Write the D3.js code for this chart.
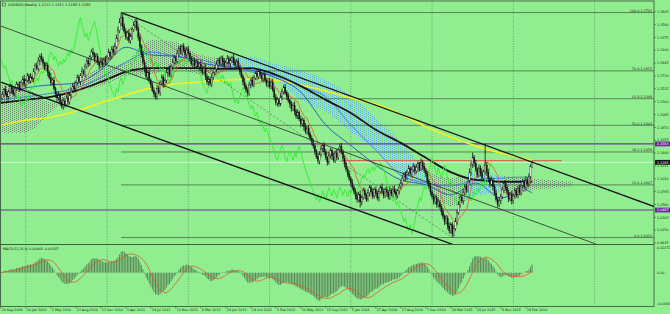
<!DOCTYPE html>
<html>
<head>
<meta charset="utf-8">
<script src="https://cdn.jsdelivr.net/npm/d3@7"></script>
<style>
body { margin: 0; background: #90ee90; }
svg { display: block; font-family: "DejaVu Sans", sans-serif; }
</style>
</head>
<body>
<div id="chart"></div>
<script>
// Weekly closes, one per bar from 20 Sep 2009
var closes = [
  1.236,1.242,1.250,1.244,1.238,1.247,1.255,1.249,1.243,1.252,1.259,
  1.258,1.251,1.262,1.268,1.259,1.266,1.273,1.265,1.271,1.268,1.280,1.291,1.286,1.298,1.306,1.301,
  1.294,1.286,1.290,1.279,1.271,1.262,1.266,1.252,1.243,1.236,1.241,1.229,1.222,1.231,1.225,1.236,1.230,1.241,
  1.248,1.256,1.251,1.262,1.270,1.264,1.274,1.281,1.277,1.289,1.298,1.293,1.305,1.313,
  1.309,1.300,1.306,1.296,1.290,1.298,1.292,1.301,1.296,1.304,1.312,1.306,1.318,1.313,
  1.322,1.335,1.349,1.362,1.371,1.356,
  1.348,1.338,1.345,1.332,1.340,1.351,1.358,1.364,1.352,1.338,1.322,1.309,1.296,1.285,1.272,1.279,
  1.265,1.258,1.249,1.243,1.238,1.252,1.246,1.262,1.270,1.259,1.266,1.278,
  1.284,1.275,1.289,1.296,1.304,1.298,1.311,1.319,1.314,1.322,1.316,1.309,1.318,1.311,
  1.302,1.294,1.299,1.290,1.296,1.288,1.293,1.285,
  1.279,1.286,1.272,1.263,1.268,1.260,1.271,1.278,1.285,
  1.292,1.299,1.294,1.303,1.297,1.289,1.296,1.302,1.294,1.299,
  1.304,1.296,1.290,1.297,1.288,1.280,1.272,1.263,1.256,
  1.249,1.244,1.258,1.266,1.259,1.270,
  1.277,1.272,1.280,1.274,1.268,1.275,1.266,1.260,
  1.264,1.256,1.262,1.250,1.238,1.228,1.233,1.226,
  1.238,1.247,1.254,1.245,1.239,1.232,
  1.226,1.218,1.224,1.214,1.206,1.212,1.201,1.193,1.199,1.188,1.180,1.186,1.176,1.169,1.163,1.156,
  1.147,1.138,1.131,1.142,1.151,1.157,1.146,1.136,1.129,1.140,1.148,1.139,1.132,1.144,1.137,1.150,1.155,
  1.146,1.135,1.126,1.117,1.109,1.101,1.094,1.087,
  1.080,1.073,1.066,1.075,1.062,1.070,1.081,1.074,1.067,1.078,1.086,1.079,1.072,1.083,1.077,1.069,1.080,1.087,
  1.080,1.073,1.083,1.078,1.071,1.082,1.076,1.084,1.079,1.073,1.081,1.087,1.094,
  1.101,1.108,1.103,1.112,1.118,1.110,
  1.116,1.121,1.114,1.120,1.126,1.118,1.128,1.122,1.115,1.109,
  1.097,1.088,1.079,1.071,
  1.063,1.069,1.058,1.062,1.054,1.046,1.038,1.029,1.035,1.022,1.014,1.024,1.009,1.018,
  1.029,1.045,1.058,1.070,1.064,1.078,1.088,1.083,1.097,1.112,1.124,1.136,1.127,
  1.116,1.108,1.119,1.111,1.102,1.113,1.124,
  1.112,1.101,1.092,1.098,1.088,
  1.077,1.066,1.058,1.064,1.071,
  1.083,1.093,1.087,1.078,
  1.067,1.075,1.064,1.072,
  1.081,1.074,1.085,1.078,
  1.089,1.096,1.088,1.099,1.092,
  1.105,1.1211,1.1285
];
var firstOpen = 1.232;

// upper / lower wick length of each candle, in pips
var wickUp = [
  35,52,28,60,44,31,55,40,62,27,48,36,58,33,45,70,29,51,38,64,
  42,57,30,49,66,35,53,41,28,60,46,34,72,39,55,30,47,63,37,50,
  58,32,44,69,36,52,41,60,29,55,47,38,65,33,50,42,59,31,48,70,
  36,54,43,28,61,45,37,56,40,68,33,49,57,62,71,66,75,81,58,47,
  52,39,64,45,36,58,42,70,48,55,38,61,44,53,35,66,41,50,57,34,
  62,45,37,56,48,30,59,43,67,38,51,44,29,63,40,54,35,60,47,39,
  55,32,48,61,37,52,44,28,59,46,35,66,42,50,38,57,31,49,64,40,
  53,36,45,58,33,62,41,50,29,56,47,39,60,34,52,43,68,37,49,55,
  31,58,44,38,63,46,35,54,41,60,32,49,57,40,66,38,51,45,30,62,
  47,36,55,42,59,33,50,44,64,38,53,29,57,45,36,61,40,52,34,48,
  56,41,35,63,49,58,38,52,44,30,60,46,37,55,42,67,33,48,59,40,
  51,36,45,57,39,62,34,48,55,41,66,37,52,44,30,58,46,39,61,35,
  49,42,56,33,60,45,38,53,40,64,31,50,57,43,36,59,47,62,38,54,
  41,56,35,48,63,39,52,45,30,68,44,57,36,50,42,61,34,49,55,40,
  58,37,46,62,33,51,44,59,38,48,55,66,42,57,36,50,61,44,53,70,
  63,58,90,47,55,39,61,44,52,36,360,48,57,40,63,45,38,55,42,60,
  47,53,36,59,44,50,39,62,41,56,35,48,60,43,52,38,57,45,49,40,
  27
];
var wickDn = [
  42,30,55,38,61,47,33,58,40,52,36,64,45,29,56,41,67,35,50,44,
  39,60,46,33,52,70,43,57,36,49,62,38,54,45,31,66,48,40,59,35,
  53,44,37,61,48,55,32,59,42,50,38,63,46,35,57,41,52,30,60,47,
  38,56,45,62,35,51,43,58,33,49,60,40,54,46,37,52,44,57,62,50,
  45,58,39,53,66,41,50,36,61,47,55,42,59,38,64,45,52,35,57,43,
  50,37,62,44,56,40,53,68,35,48,60,42,55,39,51,45,63,36,49,58,
  41,54,37,60,46,52,39,65,43,50,33,57,48,62,40,55,44,36,59,47,
  38,52,61,43,56,35,49,64,42,53,37,58,45,50,33,60,47,41,55,39,
  57,42,50,36,62,45,53,40,58,34,49,63,44,51,38,56,43,60,47,35,
  52,46,38,59,41,55,48,36,61,44,50,39,57,43,64,37,53,46,40,58,
  45,56,38,51,62,40,48,57,35,60,43,52,66,39,47,55,42,58,36,50,
  61,44,53,38,57,46,40,63,49,36,90,55,42,59,47,38,62,45,51,40,
  56,43,60,37,52,48,41,64,45,55,39,58,36,50,47,62,40,53,44,57,
  46,52,38,61,43,55,40,58,49,36,63,44,51,57,38,60,42,53,47,55,
  50,43,62,48,56,39,59,45,53,64,48,40,57,45,52,38,60,43,55,48,
  41,56,47,62,38,53,45,58,40,51,46,60,43,55,37,58,48,42,52,45,
  56,40,49,58,44,52,37,60,46,50,41,57,44,53,47,39,55,43,50,45,
  23
];

// moving averages read at every 16th bar
var knotBars = [0,16,32,48,64,80,96,112,128,144,160,176,192,208,224,240,256,272,288,304,320,336,340];
var blueFast = [1.241,1.253,1.258,1.261,1.283,1.321,1.308,1.306,1.295,1.288,1.283,1.270,1.246,1.191,1.157,1.124,1.099,1.091,1.074,1.094,1.069,1.082,1.077];
var blueSlow = [1.233,1.238,1.244,1.253,1.270,1.296,1.313,1.306,1.300,1.290,1.280,1.273,1.256,1.238,1.191,1.149,1.107,1.094,1.089,1.099,1.102,1.104,1.104];
var blackMA  = [1.228,1.233,1.238,1.248,1.263,1.280,1.286,1.286,1.286,1.285,1.286,1.275,1.256,1.233,1.211,1.183,1.161,1.136,1.112,1.099,1.096,1.096,1.096];
var yellowMA = [1.191,1.199,1.204,1.214,1.228,1.241,1.253,1.260,1.263,1.266,1.268,1.266,1.258,1.248,1.236,1.226,1.209,1.188,1.171,1.156,1.144,1.134,1.132];

// ichimoku cloud edges (runs 26 bars past the last bar)
var cloudBars = [0,16,32,48,64,80,96,112,128,144,160,176,192,208,224,240,256,272,288,304,320,336,352,366];
var cloudTop = [1.258,1.253,1.229,1.266,1.286,1.296,1.333,1.330,1.308,1.303,1.305,1.293,1.283,1.266,1.241,1.203,1.162,1.116,1.102,1.112,1.106,1.102,1.099,1.096];
var cloudBot = [1.178,1.178,1.213,1.246,1.256,1.273,1.276,1.286,1.276,1.280,1.283,1.266,1.233,1.213,1.179,1.149,1.107,1.085,1.055,1.072,1.079,1.082,1.085,1.089];

// price axis
var priceTicks = [1.3805,1.3590,1.3375,1.3160,1.2945,1.2730,1.2515,1.2300,1.2085,1.1870,1.1655,1.1440,1.1225,1.1010,1.0795,1.0580,1.0365,1.0150,0.9935];
var fibNames  = ["100.0-1.3791","76.4-1.2815","61.8-1.2349","50.0-1.1904","38.2-1.1458","23.6-1.0907","0.0-1.0026"];
var fibPrices = [1.3791,1.2815,1.2349,1.1904,1.1458,1.0907,1.0026];
var fibFrom = 77, fibTo = 289;
var purpleLevels = [1.1593, 1.0487];
var lastPrice = 1.1285;
var redLevel = 1.1312, redFrom = 218, redTo = 359;

// trend channel lines: [bar, price, bar, price]
var channelThick = [[77, 1.3791, 419, 1.0537], [0, 1.2628, 300, 0.9810]];
var channelThin  = [[0, 1.3565, 390, 0.9830]];

// macd axis
var macdTicks = [0.02372, 0, -0.0294];
var macdTickText = ["0.02372", "0.00", "-0.0294"];

// time axis
var dateBars = [0,16,32,48,64,80,96,112,128,144,160,176,192,208,224,240,256,272,288,304,320,336];
var dateLabels = ["20 Sep 2009","10 Jan 2010","2 May 2010","22 Aug 2010","12 Dec 2010","3 Apr 2011","24 Jul 2011","13 Nov 2011","4 Mar 2012","24 Jun 2012","14 Oct 2012","3 Feb 2013","26 May 2013","15 Sep 2013","5 Jan 2014","27 Apr 2014","17 Aug 2014","7 Dec 2014","29 Mar 2015","19 Jul 2015","8 Nov 2015","28 Feb 2016"];
var gridBars = [16,68,120,172,224,276,328,380];

var W = 670, H = 314;
var plotR = 654, mainTop = 1, mainBot = 244, macdBot = 306.5;

var svg = d3.select("#chart").append("svg")
  .attr("width", W)
  .attr("height", H);

svg.append("rect").attr("width", W).attr("height", H).attr("fill", "#90ee90");

var x = d3.scaleLinear().domain([0, 1]).range([0.8, 0.8 + 1.5625]);
var y = d3.scaleLinear().domain([0.9935, 1.3805]).range([243, 11.7]);
var ym = d3.scaleLinear().domain([-0.0294, 0.02372]).range([303.7, 247.7]);

var defs = svg.append("defs");
defs.append("clipPath").attr("id", "mainClip")
  .append("rect").attr("x", 0).attr("y", mainTop).attr("width", plotR).attr("height", mainBot - mainTop);
defs.append("clipPath").attr("id", "macdClip")
  .append("rect").attr("x", 0).attr("y", mainBot + 1).attr("width", plotR).attr("height", macdBot - mainBot - 1);

// staggered dot hatching for the cloud
function dots(id, col) {
  var p = defs.append("pattern").attr("id", id)
    .attr("width", 4).attr("height", 2).attr("patternUnits", "userSpaceOnUse");
  p.append("rect").attr("x", 0).attr("y", 0).attr("width", 1).attr("height", 1).attr("fill", col);
  p.append("rect").attr("x", 2).attr("y", 1).attr("width", 1).attr("height", 1).attr("fill", col);
}
dots("greyDots", "#6f7f74");
dots("blueDots", "#5fb0ec");

// blue parts of the cloud, by bar
var blueZones = [[144, 272], [298, 322]];
var bz = defs.append("clipPath").attr("id", "blueZone");
blueZones.forEach(function(z) {
  bz.append("rect").attr("x", x(z[0])).attr("y", 0).attr("width", x(z[1]) - x(z[0])).attr("height", H);
});
var gz = defs.append("clipPath").attr("id", "greyZone");
var edges = [-10].concat(d3.merge(blueZones), [400]);
for (var k = 0; k < edges.length; k += 2) {
  gz.append("rect").attr("x", x(edges[k])).attr("y", 0).attr("width", x(edges[k + 1]) - x(edges[k])).attr("height", H);
}

// grid
svg.append("g").selectAll("line").data(gridBars).enter().append("line")
  .attr("x1", function(d) { return x(d); }).attr("x2", function(d) { return x(d); })
  .attr("y1", mainTop).attr("y2", macdBot)
  .attr("stroke", "#4f6f4f").attr("stroke-width", 0.6).attr("stroke-dasharray", "1,1.5");

var main = svg.append("g").attr("clip-path", "url(#mainClip)");

// cloud
var cloud = cloudBars.map(function(b, i) { return {i: b, hi: cloudTop[i], lo: cloudBot[i]}; });
var cloudArea = d3.area()
  .x(function(d) { return x(d.i); })
  .y0(function(d) { return y(d.lo); })
  .y1(function(d) { return y(d.hi); })
  .curve(d3.curveMonotoneX);
main.append("g").attr("clip-path", "url(#greyZone)").append("path")
  .attr("d", cloudArea(cloud)).attr("fill", "url(#greyDots)");
main.append("g").attr("clip-path", "url(#blueZone)").append("path")
  .attr("d", cloudArea(cloud)).attr("fill", "url(#blueDots)");

// fibonacci levels
main.selectAll(".fib").data(fibPrices).enter().append("line")
  .attr("class", "fib")
  .attr("x1", x(fibFrom)).attr("x2", plotR)
  .attr("y1", function(d) { return y(d); }).attr("y2", function(d) { return y(d); })
  .attr("stroke", "#4f7a4f").attr("stroke-width", 0.9);

// horizontal levels
main.selectAll(".purple").data(purpleLevels).enter().append("line")
  .attr("x1", 0).attr("x2", plotR)
  .attr("y1", function(d) { return y(d); }).attr("y2", function(d) { return y(d); })
  .attr("stroke", "#7030a0").attr("stroke-width", 1.1);
main.append("line")
  .attr("x1", 0).attr("x2", plotR).attr("y1", y(lastPrice)).attr("y2", y(lastPrice))
  .attr("stroke", "#e4f8e4").attr("stroke-width", 0.8);
main.append("line")
  .attr("x1", x(redFrom)).attr("x2", x(redTo)).attr("y1", y(redLevel)).attr("y2", y(redLevel))
  .attr("stroke", "#e0503c").attr("stroke-width", 1);

// candles
var bars = closes.map(function(c, i) {
  var o = i ? closes[i - 1] : firstOpen;
  var up = (wickUp[i] || 40) / 1e4, dn = (wickDn[i] || 40) / 1e4;
  return {i: i, o: o, c: c, h: Math.max(o, c) + up, l: Math.min(o, c) - dn};
});

// slow lines
var knotLine = d3.line()
  .x(function(d) { return x(d.i); })
  .y(function(d) { return y(d.v); })
  .curve(d3.curveMonotoneX);
function knots(arr) { return knotBars.map(function(b, i) { return {i: b, v: arr[i]}; }); }

main.append("path").attr("d", knotLine(knots(yellowMA)))
  .attr("fill", "none").attr("stroke", "#f2f020").attr("stroke-width", 1.6);
main.append("path").attr("d", knotLine(knots(blueSlow)))
  .attr("fill", "none").attr("stroke", "#3f78e6").attr("stroke-width", 0.9);
main.append("path").attr("d", knotLine(knots(blueFast)))
  .attr("fill", "none").attr("stroke", "#1f4fd0").attr("stroke-width", 0.9);
main.append("path").attr("d", knotLine(knots(blackMA)))
  .attr("fill", "none").attr("stroke", "#151515").attr("stroke-width", 1.8);

// chikou span: close shifted 26 bars back
var chikou = closes.slice(26).map(function(c, i) { return {i: i, v: c}; });
main.append("path")
  .attr("d", d3.line().x(function(d) { return x(d.i); }).y(function(d) { return y(d.v); })(chikou))
  .attr("fill", "none").attr("stroke", "#2cf02c").attr("stroke-width", 0.9);

// tenkan-sen: 9 bar midpoint
var tenkan = bars.map(function(b, i) {
  var w = bars.slice(Math.max(0, i - 8), i + 1);
  return {i: i, v: (d3.max(w, function(d) { return d.h; }) + d3.min(w, function(d) { return d.l; })) / 2};
});
main.append("path")
  .attr("d", d3.line().x(function(d) { return x(d.i); }).y(function(d) { return y(d.v); })(tenkan))
  .attr("fill", "none").attr("stroke", "#e4572e").attr("stroke-width", 0.8);

var cg = main.append("g");
cg.selectAll(".wick").data(bars).enter().append("line")
  .attr("x1", function(d) { return x(d.i); }).attr("x2", function(d) { return x(d.i); })
  .attr("y1", function(d) { return y(d.h); }).attr("y2", function(d) { return y(d.l); })
  .attr("stroke", "#111").attr("stroke-width", 0.8);
cg.selectAll(".body").data(bars).enter().append("rect")
  .attr("x", function(d) { return x(d.i) - 0.6; })
  .attr("width", 1.2)
  .attr("y", function(d) { return y(Math.max(d.o, d.c)); })
  .attr("height", function(d) { return Math.max(0.6, Math.abs(y(d.o) - y(d.c))); })
  .attr("fill", function(d) { return d.c >= d.o ? "#f4f4f4" : "#111"; })
  .attr("stroke", "#111").attr("stroke-width", 0.3);

// channel lines and fibo diagonal
function segs(arr, w, col) {
  main.selectAll(null).data(arr).enter().append("line")
    .attr("x1", function(d) { return x(d[0]); }).attr("y1", function(d) { return y(d[1]); })
    .attr("x2", function(d) { return x(d[2]); }).attr("y2", function(d) { return y(d[3]); })
    .attr("stroke", col).attr("stroke-width", w);
}
segs(channelThick, 1.3, "#111");
segs(channelThin, 0.8, "#2a2a2a");
main.append("line")
  .attr("x1", x(fibFrom)).attr("y1", y(fibPrices[0]))
  .attr("x2", x(fibTo)).attr("y2", y(fibPrices[fibPrices.length - 1]))
  .attr("stroke", "#4f6f4f").attr("stroke-width", 0.7).attr("stroke-dasharray", "2,2");

// MACD panel
var e12 = closes[0], e26 = closes[0], macd = [];
closes.forEach(function(c) {
  e12 += (c - e12) * 2 / 13;
  e26 += (c - e26) * 2 / 27;
  macd.push(e12 - e26);
});
var signal = macd.map(function(m, i) { return d3.mean(macd.slice(Math.max(0, i - 8), i + 1)); });

var mg = svg.append("g").attr("clip-path", "url(#macdClip)");
mg.selectAll("line").data(macd).enter().append("line")
  .attr("x1", function(d, i) { return x(i); }).attr("x2", function(d, i) { return x(i); })
  .attr("y1", ym(0)).attr("y2", function(d) { return ym(d); })
  .attr("stroke", "#557a55").attr("stroke-width", 0.9);
mg.append("path")
  .attr("d", d3.line().x(function(d, i) { return x(i); }).y(function(d) { return ym(d); })(signal))
  .attr("fill", "none").attr("stroke", "#e4572e").attr("stroke-width", 0.8);

// frame
svg.append("rect").attr("x", 0.5).attr("y", mainTop).attr("width", plotR - 0.5).attr("height", macdBot - mainTop)
  .attr("fill", "none").attr("stroke", "#3e5e3e").attr("stroke-width", 0.9);
svg.append("line").attr("x1", 0).attr("x2", plotR).attr("y1", mainBot + 0.5).attr("y2", mainBot + 0.5)
  .attr("stroke", "#3e5e3e").attr("stroke-width", 1.2);

// text
var fs = 3.3;
var txt = svg.append("g").attr("font-size", fs).attr("fill", "#1a1a1a");

txt.selectAll(".pt").data(priceTicks).enter().append("text")
  .attr("x", 657).attr("y", function(d) { return y(d) + 1.2; })
  .text(function(d) { return d.toFixed(4); });
svg.append("g").selectAll("line").data(priceTicks).enter().append("line")
  .attr("x1", plotR).attr("x2", plotR + 2)
  .attr("y1", function(d) { return y(d); }).attr("y2", function(d) { return y(d); })
  .attr("stroke", "#3e5e3e").attr("stroke-width", 0.6);

txt.selectAll(".fl").data(fibNames).enter().append("text")
  .attr("x", plotR - 2).attr("y", function(d, i) { return y(fibPrices[i]) - 0.7; })
  .attr("text-anchor", "end")
  .text(function(d) { return d; });

function boxLabel(p, col) {
  svg.append("rect").attr("x", 655).attr("y", y(p) - 2.4).attr("width", 15).attr("height", 4.8).attr("fill", col);
  svg.append("text").attr("x", 657).attr("y", y(p) + 1.2).attr("font-size", fs).attr("fill", "#fff")
    .text(p.toFixed(4));
}
purpleLevels.forEach(function(p) { boxLabel(p, "#6a2a9c"); });
boxLabel(lastPrice, "#111");

txt.selectAll(".mt").data(macdTicks).enter().append("text")
  .attr("x", 657).attr("y", function(d) { return ym(d) + 1.2; })
  .text(function(d, i) { return macdTickText[i]; });

txt.selectAll(".dl").data(dateLabels).enter().append("text")
  .attr("x", function(d, i) { return x(dateBars[i]) + 1; })
  .attr("y", 311.2)
  .text(function(d) { return d; });
svg.append("g").selectAll("line").data(dateBars).enter().append("line")
  .attr("x1", function(d) { return x(d); }).attr("x2", function(d) { return x(d); })
  .attr("y1", macdBot).attr("y2", macdBot + 2)
  .attr("stroke", "#3e5e3e").attr("stroke-width", 0.6);

svg.append("rect").attr("x", 2.5).attr("y", 3).attr("width", 3).attr("height", 3)
  .attr("fill", "none").attr("stroke", "#333").attr("stroke-width", 0.5);
txt.append("text").attr("x", 8).attr("y", 6.2).attr("font-size", 3.5)
  .text("AUDNZD,Weekly  1.1211 1.1312 1.1188 1.1285");
txt.append("text").attr("x", 3).attr("y", 250.3)
  .text("MACD(12,26,9) 0.00468 -0.00197");
</script>
</body>
</html>
